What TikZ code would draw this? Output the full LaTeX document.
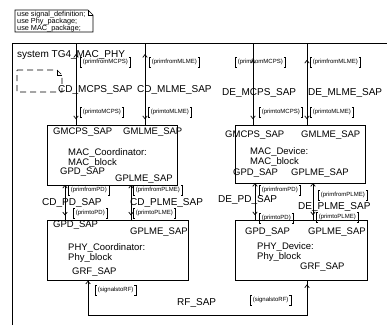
\documentclass[tikz,border=0pt]{standalone}
\usepackage{fontspec}
\setmainfont{Liberation Sans}
\usetikzlibrary{arrows.meta,decorations.markings}
\newcommand\siglist[3]{%
  \node[sl] (#1) at (#2) {#3};
  \draw[brk] ([xshift=1.8pt]#1.north west) -| (#1.south west) -- ++(1.8pt,0);
  \draw[brk] ([xshift=-1.8pt]#1.north east) -| (#1.south east) -- ++(-1.8pt,0);}
\begin{document}
\begin{tikzpicture}[x=1pt,y=-1pt,
  lbl/.style={anchor=west,inner sep=0pt,font=\fontsize{9.5}{10}\selectfont},
  chn/.style={anchor=west,inner sep=0pt,font=\fontsize{10}{11}\selectfont},
  sl/.style={anchor=west,inner xsep=2.6pt,inner ysep=2pt,font=\fontsize{6}{7}\selectfont},
  brk/.style={line width=0.7pt},
  blk/.style={draw,line width=0.9pt,inner sep=0pt,outer sep=0pt,anchor=north west},
  chanline/.style={line width=0.7pt},
  >={Straight Barb[length=2.8pt,width=4.5pt]},
  twoway/.style 2 args={chanline,postaction={decorate},
    decoration={markings,mark=at position #1 with {\arrow{<}},mark=at position #2 with {\arrow{>}}}}
]
\useasboundingbox (0,0) rectangle (387,325);

% note
\draw[line width=0.6pt] (15,10) -- (88,10) -- (93,15) -- (93,32) -- (15,32) -- cycle;
\draw[line width=0.5pt] (88,10) -- (88,15) -- (93,15);
\node[anchor=north west,align=left,inner sep=0pt,font=\fontsize{7.3}{7}\selectfont] (note) at (17,11.5)
  {use signal\_definition;\\use Phy\_package;\\use MAC\_package;};

% system frame
\coordinate (fTL) at (12,43);
\draw[line width=0.8pt] (12,325) -- (fTL) -- (387,43);
\node[chn] (sys) at (17,55) {system TG4\_MAC\_PHY};

% dashed symbol
\draw[dashed,dash pattern=on 6pt off 4pt,line width=0.7pt] (17,70) -- (57,70) -- (62,75) -- (62,92) -- (17,92) -- cycle;
\draw[line width=0.6pt] (57,70) -- (57,75) -- (62,75);

% blocks
\node[blk,minimum width=130pt,minimum height=60pt] (macc) at (47,125) {};
\node[blk,minimum width=130pt,minimum height=58pt] (macd) at (235,125) {};
\node[blk,minimum width=141pt,minimum height=60pt] (phyc) at (47,220) {};
\node[blk,minimum width=132pt,minimum height=60pt] (phyd) at (235,220) {};

% block texts
\node[lbl] (t1) at (53,132) {GMCPS\_SAP};
\node[lbl] (t2) at (123,132) {GMLME\_SAP};
\node[lbl] (t3) at (68,153) {MAC\_Coordinator:};
\node[lbl] (t4) at (68,163) {MAC\_block};
\node[lbl] (t5) at (60,172) {GPD\_SAP};
\node[lbl] (t6) at (115,179) {GPLME\_SAP};

\node[lbl] (u1) at (225,135) {GMCPS\_SAP};
\node[lbl] (u2) at (301,135) {GMLME\_SAP};
\node[lbl] (u3) at (250,152) {MAC\_Device:};
\node[lbl] (u4) at (250,162) {MAC\_block};
\node[lbl] (u5) at (233,173) {GPD\_SAP};
\node[lbl] (u6) at (291,173) {GPLME\_SAP};

\node[lbl] (v1) at (53,225) {GPD\_SAP};
\node[lbl] (v2) at (130,232) {GPLME\_SAP};
\node[lbl] (v3) at (68,248) {PHY\_Coordinator:};
\node[lbl] (v4) at (68,258) {Phy\_block};
\node[lbl] (v5) at (72,272) {GRF\_SAP};

\node[lbl] (w1) at (245,232) {GPD\_SAP};
\node[lbl] (w2) at (308,232) {GPLME\_SAP};
\node[lbl] (w3) at (257,247) {PHY\_Device:};
\node[lbl] (w4) at (257,257) {Phy\_block};
\node[lbl] (w5) at (300,267) {GRF\_SAP};

% channel coordinates
\coordinate (c1) at (76,43);
\coordinate (c2) at (145,43);
\coordinate (c3) at (253,43);
\coordinate (c4) at (307,43);
\coordinate (m1) at (65,0);
\coordinate (m2) at (131,0);
\coordinate (m3) at (255,0);
\coordinate (m4) at (313,0);
\coordinate (rfb) at (88,315);

% top channels
\draw[twoway={0.18}{0.93}] (c1) -- (c1 |- macc.north);
\draw[twoway={0.18}{0.93}] (c2) -- (c2 |- macc.north);
\draw[twoway={0.25}{0.93}] (c3) -- (c3 |- macd.north);
\draw[twoway={0.25}{0.93}] (c4) -- (c4 |- macd.north);
% middle channels
\draw[twoway={0.1}{0.87}] (m1 |- macc.south) -- (m1 |- phyc.north);
\draw[twoway={0.1}{0.87}] (m2 |- macc.south) -- (m2 |- phyc.north);
\draw[twoway={0.1}{0.87}] (m3 |- macd.south) -- (m3 |- phyd.north);
\draw[twoway={0.1}{0.87}] (m4 |- macd.south) -- (m4 |- phyd.north);
% RF channel
\draw[twoway={0.015}{0.985}] (rfb |- phyc.south) -- (rfb) -| (c4 |- phyd.south);

% channel names
\node[chn] (n1) at (58,90) {CD\_MCPS\_SAP};
\node[chn] (n2) at (137,90) {CD\_MLME\_SAP};
\node[chn] (n3) at (222,93) {DE\_MCPS\_SAP};
\node[chn] (n4) at (308,93) {DE\_MLME\_SAP};
\node[chn] (n5) at (42,203) {CD\_PD\_SAP};
\node[chn] (n6) at (130,203) {CD\_PLME\_SAP};
\node[chn] (n7) at (218,200) {DE\_PD\_SAP};
\node[chn] (n8) at (298,207) {DE\_PLME\_SAP};
\node[chn] (n9) at (177,303) {RF\_SAP};

% signal lists
\siglist{s1}{80,62}{(primfromMCPS)}
\siglist{s2}{149,62}{(primfromMLME)}
\siglist{s3}{80,112}{(primtoMCPS)}
\siglist{s4}{148,112}{(primtoMLME)}
\siglist{s5}{235,62}{(primfromMCPS)}
\siglist{s6}{310,62}{(primfromMLME)}
\siglist{s7}{259,112}{(primtoMCPS)}
\siglist{s8}{310,112}{(primtoMLME)}
\siglist{s9}{68,190}{(primfromPD)}
\siglist{s10}{133,190}{(primfromPLME)}
\siglist{s11}{73,213}{(primtoPD)}
\siglist{s12}{133,213}{(primtoPLME)}
\siglist{s13}{259,190}{(primfromPD)}
\siglist{s14}{318,195}{(primfromPLME)}
\siglist{s15}{259,218}{(primtoPD)}
\siglist{s16}{316,217}{(primtoPLME)}
\siglist{s17}{95,290}{(signalstoRF)}
\siglist{s18}{250,300}{(signalstoRF)}
\end{tikzpicture}
\end{document}
